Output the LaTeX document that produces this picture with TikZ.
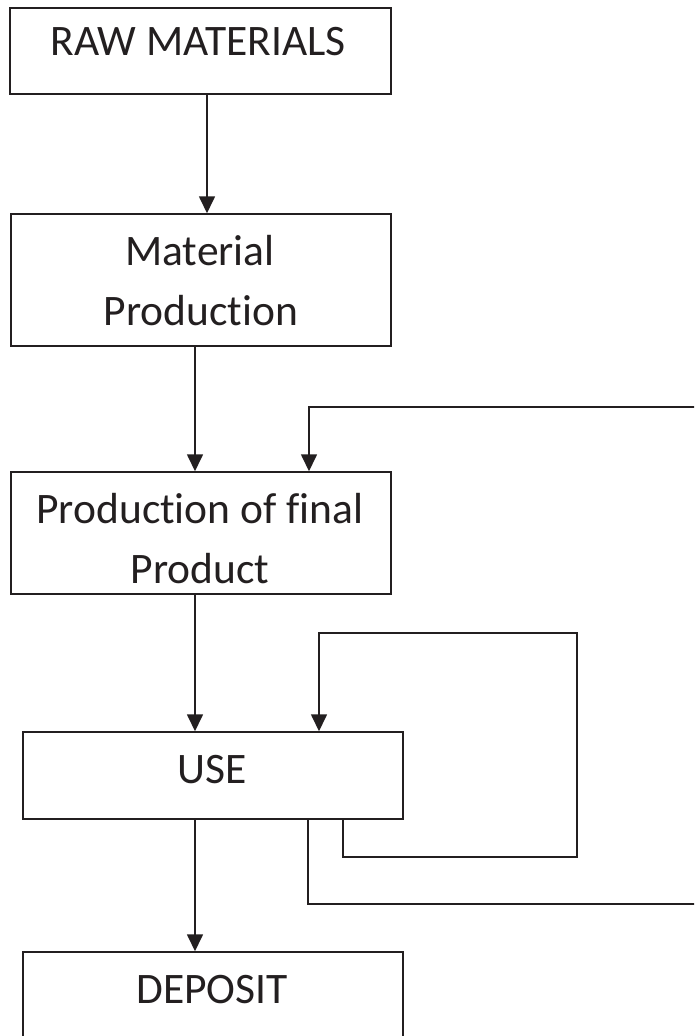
\documentclass[tikz,border=0pt]{standalone}
\usepackage{fontspec}
\setmainfont{Carlito}[Ligatures=NoCommon]
\usetikzlibrary{arrows.meta}
\definecolor{ink}{RGB}{35,31,32}
\begin{document}
\begin{tikzpicture}[x=1pt,y=-1pt,
  box/.style={draw=ink,line width=1.5pt,rectangle,inner sep=0pt,anchor=center},
  lbl/.style={inner sep=0pt,anchor=base,text=ink,font=\fontsize{43.5}{50}\selectfont},
  arr/.style={draw=ink,line width=1.7pt,-{Triangle[width=16pt,length=17pt]}},
  ln/.style={draw=ink,line width=1.7pt}]
\clip (0,0) rectangle (694,1036);
\fill[white] (0,0) rectangle (694,1036);
% boxes
\node[box,minimum width=381pt,minimum height=86pt] (raw) at (200.5,51) {};
\node[box,minimum width=380pt,minimum height=132pt] (mat) at (201,280) {};
\node[box,minimum width=380pt,minimum height=122pt] (prod) at (201,533) {};
\node[box,minimum width=380pt,minimum height=87pt] (use) at (213,775.5) {};
\node[box,minimum width=380pt,minimum height=100pt] (dep) at (213,1002) {};
% texts
\node[lbl] (rawt) at (198,55) {RAW MATERIALS};
\node[lbl] (matt1) at (200,265) {Material};
\node[lbl] (matt2) at (201,325) {Production};
\node[lbl] (prodt1) at (200,523) {Production of final};
\node[lbl] (prodt2) at (200,583) {Product};
\node[lbl] (uset) at (212,783) {USE};
\node[lbl] (dept) at (212,1003) {DEPOSIT};
% free ends
\coordinate (fb) at (697,407);
\coordinate (lbr) at (577,857);
\coordinate (ltr) at (577,633);
\coordinate (ob) at (697,904);
% connectors
\draw[arr] ([xshift=6.5pt]raw.south) -- ([xshift=6pt]mat.north);
\draw[arr] ([xshift=-6pt]mat.south) -- ([xshift=-6pt]prod.north);
\draw[arr] (fb) -| ([xshift=108pt]prod.north);
\draw[arr] ([xshift=-6pt]prod.south) -- ([xshift=-18pt]use.north);
\draw[arr] ([xshift=130pt]use.south) |- (lbr) -- (ltr) -| ([xshift=106pt]use.north);
\draw[ln] ([xshift=95pt]use.south) |- (ob);
\draw[arr] ([xshift=-18pt]use.south) -- ([xshift=-18pt]dep.north);
\end{tikzpicture}
\end{document}
